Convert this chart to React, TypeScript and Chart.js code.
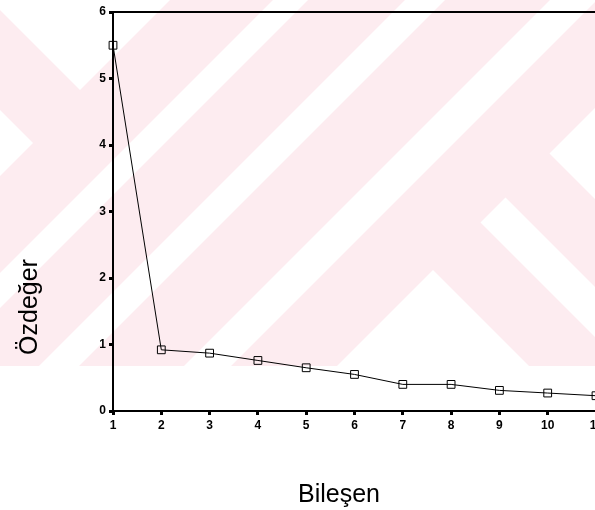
import { useEffect, useRef } from 'react';
import { Chart, registerables } from 'chart.js';

Chart.register(...registerables);

// ---- data ----
const components = ['1', '2', '3', '4', '5', '6', '7', '8', '9', '10', '11'];
const eigenvalues = [5.5, 0.92, 0.87, 0.76, 0.65, 0.55, 0.4, 0.4, 0.31, 0.27, 0.23];
const yMin = 0;
const yMax = 6;
const xTitle = 'Bileşen';
const yTitle = 'Özdeğer';

const FONT = '"Liberation Sans", Arial, Helvetica, sans-serif';

// background watermark (decoration only)
const PINK = 'rgb(253,236,240)';
const whiteShapes: number[][][] = [
  [[0, 0], [170, 0], [80, 90], [0, 10]],
  [[0, 110], [33, 143], [0, 176]],
  [[273, 0], [308, 0], [0, 308], [0, 273]],
  [[405, 0], [445, 0], [0, 445], [0, 405]],
  [[550, 0], [597, 0], [0, 597], [0, 550]],
  [[433, 270], [529, 366], [337, 366]],
  [[480.5, 222.5], [505.5, 197.5], [640, 332], [640, 382]],
  [[549.5, 153.5], [640, 63], [640, 244]],
];

const watermarkPlugin = {
  id: 'watermark',
  beforeDraw(chart: any) {
    const ctx = chart.ctx as CanvasRenderingContext2D;
    ctx.save();
    ctx.fillStyle = '#ffffff';
    ctx.fillRect(0, 0, chart.width, chart.height);
    ctx.beginPath();
    ctx.rect(0, 0, chart.width, 366);
    ctx.clip();
    ctx.fillStyle = PINK;
    ctx.fillRect(0, 0, chart.width, 366);
    ctx.fillStyle = '#ffffff';
    for (const poly of whiteShapes) {
      ctx.beginPath();
      poly.forEach(([x, y], i) => (i === 0 ? ctx.moveTo(x, y) : ctx.lineTo(x, y)));
      ctx.closePath();
      ctx.fill();
    }
    ctx.restore();
  },
};

const framePlugin = {
  id: 'frameAndTitles',
  afterDraw(chart: any) {
    const ctx = chart.ctx as CanvasRenderingContext2D;
    const a = chart.chartArea;
    ctx.save();
    // top frame line
    ctx.strokeStyle = '#000';
    ctx.lineWidth = 2;
    ctx.beginPath();
    ctx.moveTo(a.left, a.top);
    ctx.lineTo(chart.width, a.top);
    ctx.stroke();
    // axis titles
    ctx.fillStyle = '#000';
    ctx.font = `25px ${FONT}`;
    ctx.textAlign = 'center';
    ctx.textBaseline = 'alphabetic';
    ctx.fillText(xTitle, 339, 502);
    ctx.translate(37, 307);
    ctx.rotate(-Math.PI / 2);
    ctx.fillText(yTitle, 0, 0);
    ctx.restore();
  },
};

export default function App() {
  const canvasRef = useRef<HTMLCanvasElement | null>(null);

  useEffect(() => {
    if (!canvasRef.current) return;
    const chart = new Chart(canvasRef.current, {
      type: 'line',
      data: {
        labels: components,
        datasets: [
          {
            data: eigenvalues,
            borderColor: '#000',
            borderWidth: 1,
            backgroundColor: 'rgba(0,0,0,0)',
            pointStyle: 'rect',
            pointRadius: 5.5,
            pointBorderColor: '#000',
            pointBorderWidth: 1,
            pointBackgroundColor: 'rgba(0,0,0,0)',
            tension: 0,
            fill: false,
          },
        ],
      },
      options: {
        responsive: false,
        animation: false,
        events: [],
        layout: { padding: { top: 12, right: 24, left: 0, bottom: 0 } },
        plugins: {
          legend: { display: false },
          tooltip: { enabled: false },
          title: { display: false },
        },
        scales: {
          x: {
            type: 'category',
            offset: false,
            grid: {
              display: true,
              drawOnChartArea: false,
              drawTicks: true,
              tickLength: 4,
              tickWidth: 3,
              tickColor: '#000',
              offset: false,
            },
            border: { display: true, color: '#000', width: 2 },
            ticks: {
              color: '#000',
              padding: 3,
              maxRotation: 0,
              autoSkip: false,
              font: { family: FONT, size: 12, weight: 'bold' },
            },
            afterFit(scale: any) {
              scale.height = 99;
            },
          },
          y: {
            type: 'linear',
            min: yMin,
            max: yMax,
            grid: {
              display: true,
              drawOnChartArea: false,
              drawTicks: true,
              tickLength: 4,
              tickWidth: 3,
              tickColor: '#000',
            },
            border: { display: true, color: '#000', width: 2 },
            ticks: {
              stepSize: 1,
              color: '#000',
              padding: 3,
              font: { family: FONT, size: 12, weight: 'bold' },
            },
            afterFit(scale: any) {
              scale.width = 113;
            },
          },
        },
      },
      plugins: [watermarkPlugin, framePlugin],
    } as any);
    return () => chart.destroy();
  }, []);

  return (
    <div
      style={{
        position: 'absolute',
        left: 0,
        top: 0,
        width: 595,
        height: 510,
        overflow: 'hidden',
        background: '#fff',
      }}
    >
      <canvas ref={canvasRef} width={620} height={510} style={{ display: 'block' }} />
    </div>
  );
}
